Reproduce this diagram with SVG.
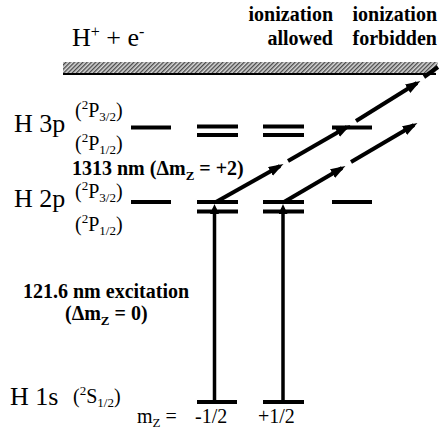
<svg xmlns="http://www.w3.org/2000/svg" width="440" height="429" viewBox="0 0 440 429" font-family="'Liberation Serif', 'DejaVu Serif', 'Noto Serif', serif">
<defs>
<style>
text{font-family:"Liberation Serif","DejaVu Serif","Noto Serif",serif;fill:#000}
.b{font-weight:bold;font-size:20px}
.r{font-size:20px}
.big{font-size:26px}
.s{font-size:13px}
.lvl{stroke:#000;stroke-width:4;fill:none}
.arr{stroke:#000;stroke-width:4;fill:none}
.varr{stroke:#000;stroke-width:3.5;fill:none}
</style>
<pattern id="hatch" width="3" height="3" patternUnits="userSpaceOnUse" patternTransform="rotate(45)">
<rect width="3" height="3" fill="#d8d8d8"/>
<line x1="0.7" y1="0" x2="0.7" y2="3" stroke="#444" stroke-width="1.3"/>
</pattern>
<marker id="ah" markerUnits="userSpaceOnUse" markerWidth="16" markerHeight="12" refX="11" refY="5" orient="auto">
<path d="M0,0 L15,5 L0,10 z" fill="#000"/>
</marker>
<marker id="vh" markerUnits="userSpaceOnUse" markerWidth="12" markerHeight="12" refX="6" refY="4.5" orient="auto">
<path d="M0,0 L10,4.5 L0,9 z" fill="#000"/>
</marker>
</defs>

<g id="continuum">
<polygon points="63,62 438,62 435,74 63,74" fill="url(#hatch)"/>
<line x1="63" y1="74" x2="436" y2="74" stroke="#000" stroke-width="1.8"/>
<text class="big" x="72" y="46">H<tspan font-size="16" dy="-9">+</tspan><tspan dy="9"> + e</tspan><tspan font-size="16" dy="-9">-</tspan></text>
</g>

<g id="header-allowed">
<text class="b" x="333" y="21" text-anchor="end">ionization</text>
<text class="b" x="333" y="45" text-anchor="end">allowed</text>
</g>
<g id="header-forbidden">
<text class="b" x="437" y="21" text-anchor="end">ionization</text>
<text class="b" x="437" y="45" text-anchor="end">forbidden</text>
</g>

<g id="level-3p">
<text class="big" x="14" y="132">H 3p</text>
<text class="r" x="75" y="117">(<tspan class="s" dy="-8">2</tspan><tspan dy="8">P</tspan><tspan class="s" dy="4">3/2</tspan><tspan dy="-4">)</tspan></text>
<text class="r" x="75" y="150">(<tspan class="s" dy="-8">2</tspan><tspan dy="8">P</tspan><tspan class="s" dy="4">1/2</tspan><tspan dy="-4">)</tspan></text>
<line class="lvl" x1="131" y1="127.5" x2="171" y2="127.5"/>
<line class="lvl" x1="197" y1="126.5" x2="238" y2="126.5"/>
<line class="lvl" x1="197" y1="135" x2="238" y2="135"/>
<line class="lvl" x1="263" y1="126.5" x2="304" y2="126.5"/>
<line class="lvl" x1="263" y1="135" x2="304" y2="135"/>
<line class="lvl" x1="332" y1="127.5" x2="372" y2="127.5"/>
</g>

<g id="level-2p">
<text class="big" x="14" y="207">H 2p</text>
<text class="r" x="75" y="198">(<tspan class="s" dy="-8">2</tspan><tspan dy="8">P</tspan><tspan class="s" dy="4">3/2</tspan><tspan dy="-4">)</tspan></text>
<text class="r" x="75" y="231">(<tspan class="s" dy="-8">2</tspan><tspan dy="8">P</tspan><tspan class="s" dy="4">1/2</tspan><tspan dy="-4">)</tspan></text>
<line class="lvl" x1="131" y1="202" x2="171" y2="202"/>
<line class="lvl" x1="197" y1="202" x2="238" y2="202"/>
<line class="lvl" x1="197" y1="211.5" x2="238" y2="211.5"/>
<line class="lvl" x1="263" y1="202" x2="304" y2="202"/>
<line class="lvl" x1="263" y1="211.5" x2="304" y2="211.5"/>
<line class="lvl" x1="332" y1="202" x2="372" y2="202"/>
</g>

<g id="level-1s">
<text class="big" x="10" y="405">H 1s</text>
<text class="r" x="73" y="403">(<tspan class="s" dy="-8">2</tspan><tspan dy="8">S</tspan><tspan class="s" dy="4">1/2</tspan><tspan dy="-4">)</tspan></text>
<line class="lvl" x1="197" y1="402" x2="237" y2="402"/>
<line class="lvl" x1="263" y1="402" x2="304" y2="402"/>
<text class="r" x="137" y="423">m<tspan class="s" dy="4">Z</tspan><tspan dy="-4"> =</tspan></text>
<text class="r" x="195" y="423">-1/2</text>
<text class="r" x="258" y="423">+1/2</text>
</g>

<g id="label-1313">
<text class="b" x="72" y="175">1313 nm (Δm<tspan class="s" dy="5">Z</tspan><tspan dy="-5"> = +2)</tspan></text>
</g>
<g id="label-121">
<text class="b" x="23" y="298">121.6 nm excitation</text>
<text class="b" x="65" y="320">(Δm<tspan class="s" dy="5">Z</tspan><tspan dy="-5"> = 0)</tspan></text>
</g>

<g id="connectors">
<line class="varr" x1="214.5" y1="400" x2="214.5" y2="208" marker-end="url(#vh)"/>
<line class="varr" x1="283" y1="400" x2="283" y2="208" marker-end="url(#vh)"/>
<line class="arr" x1="216" y1="202" x2="280" y2="166" marker-end="url(#ah)"/>
<line class="arr" x1="288" y1="161" x2="347" y2="127" marker-end="url(#ah)"/>
<line class="arr" x1="356" y1="121" x2="417" y2="83" marker-end="url(#ah)"/>
<line class="arr" x1="424" y1="77" x2="438" y2="67"/>
<line class="arr" x1="284" y1="202" x2="342" y2="168" marker-end="url(#ah)"/>
<line class="arr" x1="351" y1="162" x2="414" y2="125" marker-end="url(#ah)"/>
</g>
</svg>
